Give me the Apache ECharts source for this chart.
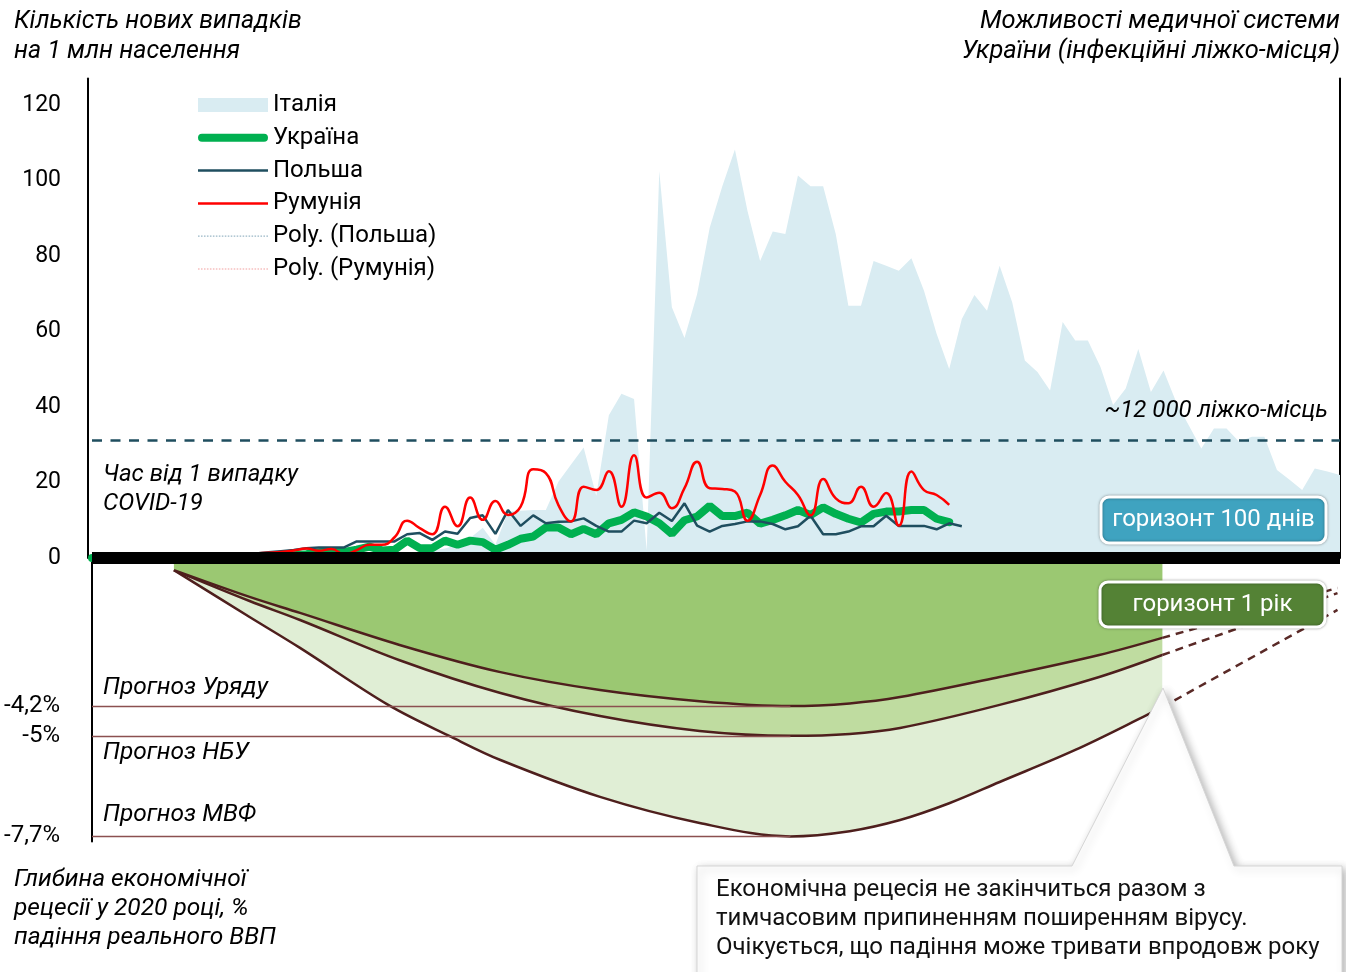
<!DOCTYPE html>
<html>
<head>
<meta charset="utf-8">
<script src="https://cdn.jsdelivr.net/npm/echarts@6/dist/echarts.min.js"></script>
<style>
html,body{margin:0;padding:0;background:#fff;}
#chart{width:1346px;height:972px;}
</style>
</head>
<body>
<div id="chart"></div>
<script>
// ---- data: days since first COVID-19 case ----
const days = Array.from({length: 100}, (_, i) => i);

// new cases per 1 mln population
const italyCases = [0,0,0,0,0,0,0,0,0,0, 0,0,0,0,0,0,0,0,0,0,
  0.2,0.3,0.5,0.8,1.0,1.2,1.5,2.0,2.5,3.5,
  5.3,8,3.5,12.3,12.5,12.7,12.7,20.2,24.8,29.3,
  16.5,37.8,43.5,42.1,2,102.5,66.4,58.3,69.9,87.5,
  98.5,108.2,91.9,78.7,86.5,85.8,101.3,98.5,98.5,85.8,
  66.8,66.8,78.7,77.4,76.1,79.4,70.8,59.4,50.1,63.3,
  69.7,65.5,77.4,67.7,52.3,49.3,44.4,62.5,57.6,57.6,
  50.6,40.5,44.9,55.4,44,49.7,41.3,35.2,29,34.3,
  34.3,30.8,32.1,32.1,23.3,20.7,18,23.7,22.9,22];
const ukraineCases = [0,0,0,0,0,0,0,0,0.1,0.1, 0.1,0.2,0.2,0.3,0.4,0.5,0.7,1,1.5,1.8,
  1.6,2.2,3,2,2.2,4.6,2.6,2.6,4.6,3.5, 4.6,4.2,2.2,3.5,5.1,5.7,8.1,8.1,6.3,7.7,
  6.3,9.2,10.1,12.1,11,9.2,6.4,10,11,13.8, 11.1,11.1,12,9.1,10.1,11.3,12.7,11.4,13.4,11.7,
  10.4,9.4,11.7,12.3,12.3,12.7,12.7,10.4,9.5];
const polandCases = [0,0,0.1,0.1,0.2,0.2,0.3,0.3,0.4,0.5, 0.6,0.8,1.0,1.2,1.5,1.8,2.1,2.6,2.8,2.8,
  2.8,4.4,4.4,4.4,4.4,6.3,6.6,4.8,7,6.4, 10.6,11.3,6.4,12.7,8.5,11.3,9.2,9.6,9.7,10.5,
  8.5,7,7,9.9,9.2,12,9.8,14.5,8.6,7, 8.5,9,9.7,9.7,9,7.6,8.4,11.2,6.3,6.3,
  7,8.4,8.4,11.2,8.5,8.5,8.5,7.6,9.2,8.4];
const romaniaCases = [0,0,0,0,0,0,0,0,0,0.2, 0.4,0.7,1.0,1.2,1.4,1.6,2.0,2.5,1.9,2.4,
  1.0,2.1,3.5,3.5,5.5,9.9,7.9,6.3,13.6,8.4, 16,10.1,15.1,11.4,13.6,23.5,22.5,14,9.7,18.9,
  18,23,13.6,27.2,16,17.3,13.2,18.5,25.5,18.5, 18.3,17.6,9.9,16.7,24.5,20.2,16.7,11.3,20.9,15.8,
  14.5,18.9,13.6,17.2,8.6,22.9,18,16.7,14.1];
const bedCapacityLevel = 31.3;   // ~12 000 infectious-disease beds
const caseTicks = [0, 20, 40, 60, 80, 100, 120];

// ---- recession depth 2020, % of real GDP (read against the -4,2 / -5 / -7,7 marks) ----
const forecastDays = [6.5, 12.5, 16.5, 24.4, 32.4, 40.3, 48.2, 55.4, 60.1, 64.1, 72, 79.9, 84.9];
const govForecast = [-0.55, -1.27, -1.70, -2.56, -3.29, -3.77, -4.07, -4.2, -4.13, -3.96, -3.42, -2.83, -2.37];
const nbuForecast = [-0.55, -1.38, -1.89, -2.97, -3.85, -4.47, -4.87, -5, -4.95, -4.79, -4.17, -3.42, -2.83];
const imfDays = [6.5, 12.5, 16.5, 23.5, 28.5, 32.4, 40.3, 48.2, 55.4, 60.1, 64.1, 68, 72, 78, 83.7, 84.9];
const imfForecast = [-0.55, -1.81, -2.64, -4.17, -5.03, -5.65, -6.64, -7.34, -7.7, -7.56, -7.26, -6.81, -6.24, -5.38, -4.44, -4.23];
const extensionDays = [84.9, 98.8];
const govExtension = [-2.37, -1.03];
const nbuExtension = [-2.83, -1.17];
const imfExtension = [-4.23, -1.62];
const forecastLevels = [-4.2, -5, -7.7];   // Уряд, НБУ, МВФ
const troughDay = 55.4;

const zip = (xs, ys) => xs.map((x, k) => [x, ys[k]]);
const FONT = 'Roboto, "Noto Sans", sans-serif';
const BROWN = '#4e1f1d';

function leader(level) {
  return {
    silent: true, symbol: 'none', z: 6,
    lineStyle: {color: '#8b5050', width: 1.3, type: 'solid'},
    label: {show: false},
    data: [[{coord: [0, level]}, {coord: [troughDay, level]}]]
  };
}
// legend icon shapes (70 x 14 box)
const BOX = 'M0,0 M70,14 ';
const barIcon = (y, h) => 'path://' + BOX + `M0,${y} L70,${y} L70,${y + h} L0,${y + h} Z`;
const roundIcon = 'path://' + BOX + 'M4,3 L66,3 A4,4 0 0 1 66,11 L4,11 A4,4 0 0 1 4,3 Z';
let dots = '';
for (let x = 0; x < 70; x += 3) dots += `M${x},6.4 L${x + 1.6},6.4 L${x + 1.6},7.6 L${x},7.6 Z `;
const dottedIcon = 'path://' + BOX + dots;

const chart = echarts.init(document.getElementById('chart'), null, {renderer: 'canvas'});
const option = {
  animation: false,
  backgroundColor: '#fff',
  textStyle: {fontFamily: FONT},
  legend: {
    left: 198, top: 93, orient: 'vertical', padding: 0,
    itemWidth: 70, itemHeight: 14, itemGap: 8.8,
    selectedMode: false,
    itemStyle: {borderWidth: 0},
    textStyle: {fontSize: 24, color: '#000', fontFamily: FONT},
    data: [{name: 'Італія', icon: 'rect'},
           {name: 'Україна', icon: roundIcon},
           {name: 'Польша', icon: barIcon(5.75, 2.5)},
           {name: 'Румунія', icon: barIcon(5.75, 2.5)},
           {name: 'Poly. (Польша)', icon: dottedIcon},
           {name: 'Poly. (Румунія)', icon: dottedIcon}]
  },
  grid: [
    {left: 92, right: 6, top: 78.6, height: 479.4, outerBoundsMode: 'none'},
    {left: 92, right: 6, top: 558, height: 283.6, outerBoundsMode: 'none'}
  ],
  xAxis: [
    {gridIndex: 0, type: 'category', data: days, boundaryGap: false, offset: 6, z: 10,
     axisLine: {show: true, lineStyle: {color: '#000', width: 12, cap: 'butt'}},
     axisTick: {show: false}, axisLabel: {show: false}, splitLine: {show: false}},
    {gridIndex: 1, type: 'value', min: 0, max: 99, show: false}
  ],
  yAxis: [
    {gridIndex: 0, type: 'value', min: 0, max: 127, interval: 20, offset: 4,
     axisLine: {show: true, lineStyle: {color: '#000', width: 2}},
     axisTick: {show: false}, splitLine: {show: false},
     axisLabel: {color: '#000', fontSize: 23, margin: 27, fontFamily: FONT,
       customValues: caseTicks}},
    {gridIndex: 0, type: 'value', min: 0, max: 127, position: 'right',
     axisLine: {show: true, lineStyle: {color: '#000', width: 2}},
     axisTick: {show: false}, axisLabel: {show: false}, splitLine: {show: false}},
    {gridIndex: 1, type: 'value', min: -7.84, max: -0.2256, offset: 4,
     axisLine: {show: true, lineStyle: {color: '#000', width: 2}},
     axisTick: {show: false}, splitLine: {show: false},
     axisLabel: {color: '#000', fontSize: 24, margin: 28, fontFamily: FONT,
       customValues: forecastLevels,
       formatter: v => String(v).replace('.', ',') + '%'}}
  ],
  series: [
    {name: 'Італія', type: 'line', data: italyCases, symbol: 'none', z: 1,
     lineStyle: {width: 0}, itemStyle: {color: '#d9ecf2'},
     areaStyle: {color: '#d9ecf2', opacity: 1},
     markLine: {silent: true, symbol: 'none', z: 5,
       lineStyle: {color: '#1f4e5f', width: 2.5, type: [10, 8.5]},
       label: {show: true, position: 'insideEndTop', formatter: '~12 000 ліжко-місць',
         color: '#000', fontSize: 24, fontStyle: 'italic', fontFamily: FONT, distance: [12, 17]},
       data: [{yAxis: bedCapacityLevel}]}},
    {name: 'Україна', type: 'line', data: ukraineCases, symbol: 'none', z: 3,
     itemStyle: {color: '#00b050'}, lineStyle: {color: '#00b050', width: 8, cap: 'round'}},
    {name: 'Польша', type: 'line', data: polandCases, symbol: 'none', z: 4,
     itemStyle: {color: '#1f4e5f'}, lineStyle: {color: '#1f4e5f', width: 2.5}},
    {name: 'Румунія', type: 'line', data: romaniaCases, symbol: 'none', z: 5, smooth: 0.5,
     itemStyle: {color: '#ff0000'}, lineStyle: {color: '#ff0000', width: 2.5}},
    {name: 'Poly. (Польша)', type: 'line', data: [], symbol: 'none',
     itemStyle: {color: '#9ab7c6'}, lineStyle: {color: '#9ab7c6', width: 1.2, type: 'dotted'}},
    {name: 'Poly. (Румунія)', type: 'line', data: [], symbol: 'none',
     itemStyle: {color: '#f2a0a0'}, lineStyle: {color: '#f2a0a0', width: 1.2, type: 'dotted'}},

    {name: 'Прогноз МВФ', type: 'line', xAxisIndex: 1, yAxisIndex: 2, z: 2,
     data: zip(imfDays, imfForecast), smooth: 0.35, symbol: 'none',
     lineStyle: {color: BROWN, width: 2.5},
     areaStyle: {color: '#e0eed5', opacity: 1, origin: 'end'},
     markLine: leader(forecastLevels[2])},
    {name: 'Прогноз НБУ', type: 'line', xAxisIndex: 1, yAxisIndex: 2, z: 3,
     data: zip(forecastDays, nbuForecast), smooth: 0.35, symbol: 'none',
     lineStyle: {color: BROWN, width: 2.5},
     areaStyle: {color: '#bfdca0', opacity: 1, origin: 'end'},
     markLine: leader(forecastLevels[1])},
    {name: 'Прогноз Уряду', type: 'line', xAxisIndex: 1, yAxisIndex: 2, z: 4,
     data: zip(forecastDays, govForecast), smooth: 0.35, symbol: 'none',
     lineStyle: {color: BROWN, width: 2.5},
     areaStyle: {color: '#9bc872', opacity: 1, origin: 'end'},
     markLine: leader(forecastLevels[0])},
    {name: 'МВФ далі', type: 'line', xAxisIndex: 1, yAxisIndex: 2, z: 4,
     data: zip(extensionDays, imfExtension), symbol: 'none',
     lineStyle: {color: '#5a2a27', width: 2.5, type: [8, 6]}},
    {name: 'НБУ далі', type: 'line', xAxisIndex: 1, yAxisIndex: 2, z: 4,
     data: zip(extensionDays, nbuExtension), symbol: 'none',
     lineStyle: {color: '#5a2a27', width: 2.5, type: [8, 6]}},
    {name: 'Уряд далі', type: 'line', xAxisIndex: 1, yAxisIndex: 2, z: 4,
     data: zip(extensionDays, govExtension), symbol: 'none',
     lineStyle: {color: '#5a2a27', width: 2.5, type: [8, 6]}}
  ],
  graphic: [
    {type: 'text', x: 14, y: 7, z: 50, style: {text: 'Кількість нових випадків\nна 1 млн населення',
      font: 'italic 25px ' + FONT, fill: '#000', lineHeight: 30}},
    {type: 'text', x: 1340, y: 7, z: 50, style: {text: 'Можливості медичної системи\nУкраїни (інфекційні ліжко-місця)',
      font: 'italic 25.5px ' + FONT, fill: '#000', lineHeight: 30, align: 'right'}},
    {type: 'text', x: 103, y: 460, z: 50, style: {text: 'Час від 1 випадку\nCOVID-19',
      font: 'italic 24px ' + FONT, fill: '#000', lineHeight: 29}},
    {type: 'text', x: 103, y: 688, z: 50, style: {text: 'Прогноз Уряду',
      font: 'italic 24.5px ' + FONT, fill: '#000', verticalAlign: 'middle'}},
    {type: 'text', x: 103, y: 753, z: 50, style: {text: 'Прогноз НБУ',
      font: 'italic 24.5px ' + FONT, fill: '#000', verticalAlign: 'middle'}},
    {type: 'text', x: 103, y: 815, z: 50, style: {text: 'Прогноз МВФ',
      font: 'italic 24.5px ' + FONT, fill: '#000', verticalAlign: 'middle'}},
    {type: 'text', x: 14, y: 865, z: 50, style: {text: 'Глибина економічної\nрецесії у 2020 році, %\nпадіння реального ВВП',
      font: 'italic 24.5px ' + FONT, fill: '#000', lineHeight: 29}},
    {type: 'rect', z: 60, shape: {x: 1101, y: 497, width: 225, height: 46, r: 8},
     style: {fill: '#3fa3c0', stroke: '#fff', lineWidth: 3, shadowBlur: 3, shadowColor: 'rgba(0,0,0,0.35)'}},
    {type: 'text', x: 1213.5, y: 520, z: 61, style: {text: 'горизонт 100 днів', font: '24px ' + FONT,
      fill: '#fff', align: 'center', verticalAlign: 'middle'}},
    {type: 'rect', z: 60, shape: {x: 1100, y: 582, width: 225, height: 45, r: 8},
     style: {fill: '#548235', stroke: '#fff', lineWidth: 3, shadowBlur: 3, shadowColor: 'rgba(0,0,0,0.35)'}},
    {type: 'text', x: 1212.5, y: 605, z: 61, style: {text: 'горизонт 1 рік', font: '24px ' + FONT,
      fill: '#fff', align: 'center', verticalAlign: 'middle'}},
    {type: 'polygon', z: 70, shape: {points: [[697, 866], [1072, 866], [1163, 688], [1234, 866], [1342, 866], [1342, 985], [697, 985]]},
     style: {fill: '#fff', stroke: '#d6d6d6', lineWidth: 1, shadowBlur: 8, shadowColor: 'rgba(0,0,0,0.3)', shadowOffsetX: 3, shadowOffsetY: 3}},
    {type: 'text', x: 716, y: 875, z: 71, style: {text: 'Економічна рецесія не закінчиться разом з\nтимчасовим припиненням поширенням вірусу.\nОчікується, що падіння може тривати впродовж року',
      font: '24px ' + FONT, fill: '#111', lineHeight: 29}}
  ]
};
chart.setOption(option);
</script>
</body>
</html>
